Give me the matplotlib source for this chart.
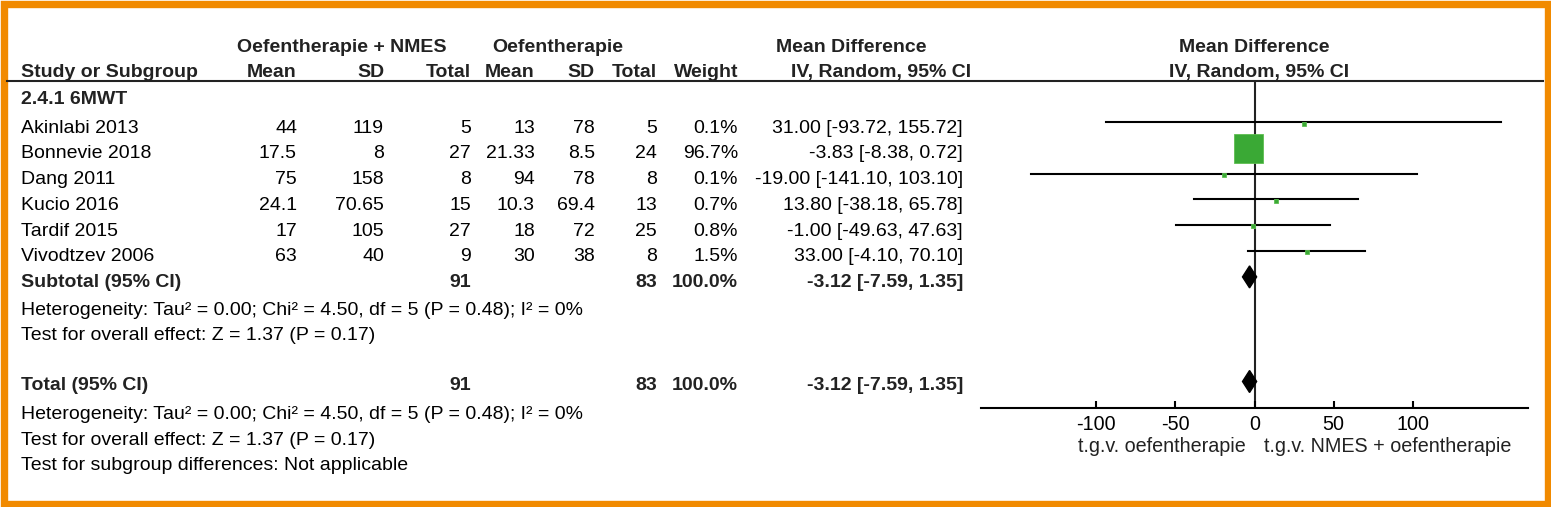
import numpy as np
import matplotlib.pyplot as plt
from matplotlib.patches import Rectangle, Polygon

plt.rcParams['font.family'] = ['Liberation Sans', 'DejaVu Sans']
plt.rcParams['axes.unicode_minus'] = False

# Data
studies = ['Akinlabi 2013', 'Bonnevie 2018', 'Dang 2011', 'Kucio 2016', 'Tardif 2015', 'Vivodtzev 2006']
exp_mean = [44, 17.5, 75, 24.1, 17, 63]
exp_sd = [119, 8, 158, 70.65, 105, 40]
exp_n = [5, 27, 8, 15, 27, 9]
ctl_mean = [13, 21.33, 94, 10.3, 18, 30]
ctl_sd = [78, 8.5, 78, 69.4, 72, 38]
ctl_n = [5, 24, 8, 13, 25, 8]
weights = [0.1, 96.7, 0.1, 0.7, 0.8, 1.5]
total_weight = 100.0
md = [31.00, -3.83, -19.00, 13.80, -1.00, 33.00]
ci_lo = [-93.72, -8.38, -141.10, -38.18, -49.63, -4.10]
ci_hi = [155.72, 0.72, 103.10, 65.78, 47.63, 70.10]
pooled_md, pooled_lo, pooled_hi = -3.12, -7.59, 1.35
x_ticks = [-100, -50, 0, 50, 100]

het_text = 'Heterogeneity: Tau² = 0.00; Chi² = 4.50, df = 5 (P = 0.48); I² = 0%'
overall_text = 'Test for overall effect: Z = 1.37 (P = 0.17)'
subgroup_text = 'Test for subgroup differences: Not applicable'

# Layout (pixels)
W, H = 1551, 507
fs = 14.0        # table text
fs_plot = 14.2   # forest plot labels
txt = '#222222'
row0 = 132.7
dy = 25.7
col_right = [297, 384, 471, 535, 595, 657, 738, 963]
left_x = 21

fig = plt.figure(figsize=(W / 100, H / 100), dpi=100)
ax = fig.add_axes([0, 0, 1, 1])
ax.set_xlim(0, W)
ax.set_ylim(H, 0)
ax.axis('off')

# orange frame
ax.add_patch(Rectangle((3.5, 3.5), W - 7, H - 7, fill=False, edgecolor='#F18A00', linewidth=5.3))

# headers
ax.text(342, 52, 'Oefentherapie + NMES', ha='center', va='baseline', fontsize=fs, fontweight='bold', color=txt)
ax.text(558, 52, 'Oefentherapie', ha='center', va='baseline', fontsize=fs, fontweight='bold', color=txt)
ax.text(851, 52, 'Mean Difference', ha='center', va='baseline', fontsize=fs, fontweight='bold', color=txt)
ax.text(1254, 52, 'Mean Difference', ha='center', va='baseline', fontsize=fs, fontweight='bold', color=txt)
ax.text(left_x, 77, 'Study or Subgroup', ha='left', va='baseline', fontsize=fs, fontweight='bold', color=txt)
for label, xr in zip(['Mean', 'SD', 'Total', 'Mean', 'SD', 'Total', 'Weight'], col_right[:7]):
    ax.text(xr, 77, label, ha='right', va='baseline', fontsize=fs, fontweight='bold', color=txt)
ax.text(881, 77, 'IV, Random, 95% CI', ha='center', va='baseline', fontsize=fs, fontweight='bold', color=txt)
ax.text(1259, 77, 'IV, Random, 95% CI', ha='center', va='baseline', fontsize=fs, fontweight='bold', color=txt)
ax.plot([7, W - 8], [81, 81], color='#222222', linewidth=1.5)

ax.text(left_x, 103.5, '2.4.1 6MWT', ha='left', va='baseline', fontsize=fs, fontweight='bold', color=txt)

# study rows
for i, name in enumerate(studies):
    y = row0 + i * dy
    vals = [f'{exp_mean[i]:g}', f'{exp_sd[i]:g}', f'{exp_n[i]}', f'{ctl_mean[i]:g}', f'{ctl_sd[i]:g}',
            f'{ctl_n[i]}', f'{weights[i]:.1f}%', f'{md[i]:.2f} [{ci_lo[i]:.2f}, {ci_hi[i]:.2f}]']
    ax.text(left_x, y, name, ha='left', va='baseline', fontsize=fs, color='black')
    for v, xr in zip(vals, col_right):
        ax.text(xr, y, v, ha='right', va='baseline', fontsize=fs, color='black')

# subtotal + total rows
ys_sub = row0 + 6 * dy
ys_tot = 390
summary = [f'{sum(exp_n)}', f'{sum(ctl_n)}', f'{total_weight:.1f}%',
           f'{pooled_md:.2f} [{pooled_lo:.2f}, {pooled_hi:.2f}]']
for y, label in [(ys_sub, 'Subtotal (95% CI)'), (ys_tot, 'Total (95% CI)')]:
    ax.text(left_x, y, label, ha='left', va='baseline', fontsize=fs, fontweight='bold', color=txt)
    for v, xr in zip(summary, [col_right[2], col_right[5], col_right[6], col_right[7]]):
        ax.text(xr, y, v, ha='right', va='baseline', fontsize=fs, fontweight='bold', color=txt)

ax.text(left_x, 315, het_text, ha='left', va='baseline', fontsize=fs, color='black')
ax.text(left_x, 340.5, overall_text, ha='left', va='baseline', fontsize=fs, color='black')
ax.text(left_x, 419, het_text, ha='left', va='baseline', fontsize=fs, color='black')
ax.text(left_x, 445, overall_text, ha='left', va='baseline', fontsize=fs, color='black')
ax.text(left_x, 470.5, subgroup_text, ha='left', va='baseline', fontsize=fs, color='black')

# forest plot axes: x from -173..173 spans px 981..1528, y in pixels 81..407
x0_px, x1_px = 981, 1528
y_top, y_axis = 81, 407.5
fax = fig.add_axes([x0_px / W, 1 - y_axis / H, (x1_px - x0_px) / W, (y_axis - y_top) / H])
fax.set_xlim(-173, 173)
fax.set_ylim(y_axis, y_top)
fax.patch.set_alpha(0)
for s in ['top', 'left', 'right']:
    fax.spines[s].set_visible(False)
fax.spines['bottom'].set_linewidth(1.5)
fax.set_yticks([])
fax.set_xticks(x_ticks)
fax.tick_params(axis='x', direction='in', length=5.2, width=1.5, pad=5.5, labelsize=fs_plot, colors='black')

fax.axvline(0, color='#222222', linewidth=1.5, zorder=1)

for i in range(len(studies)):
    y = row0 + i * dy - 10.5
    fax.plot([ci_lo[i], ci_hi[i]], [y, y], color='black', linewidth=1.5, zorder=2)
    side_px = max(4.0, 29 * np.sqrt(weights[i] / max(weights)))
    fax.plot(md[i], y + (0.3 if side_px > 10 else 1.5), marker='s', markersize=side_px * 0.72,
             markerfacecolor='#3AA935', markeredgecolor='#5DBE50', markeredgewidth=0.6, zorder=3)

for y in [ys_sub - 10, ys_tot - 8.5]:
    fax.add_patch(Polygon([[pooled_lo, y], [pooled_md, y - 11], [pooled_hi, y], [pooled_md, y + 11]],
                          closed=True, facecolor='black', edgecolor='black', zorder=4))

ax.text(1246, 452, 't.g.v. oefentherapie', ha='right', va='baseline', fontsize=fs_plot, color=txt)
ax.text(1264, 452, 't.g.v. NMES + oefentherapie', ha='left', va='baseline', fontsize=fs_plot, color=txt)

plt.savefig('out.png', dpi=100)
